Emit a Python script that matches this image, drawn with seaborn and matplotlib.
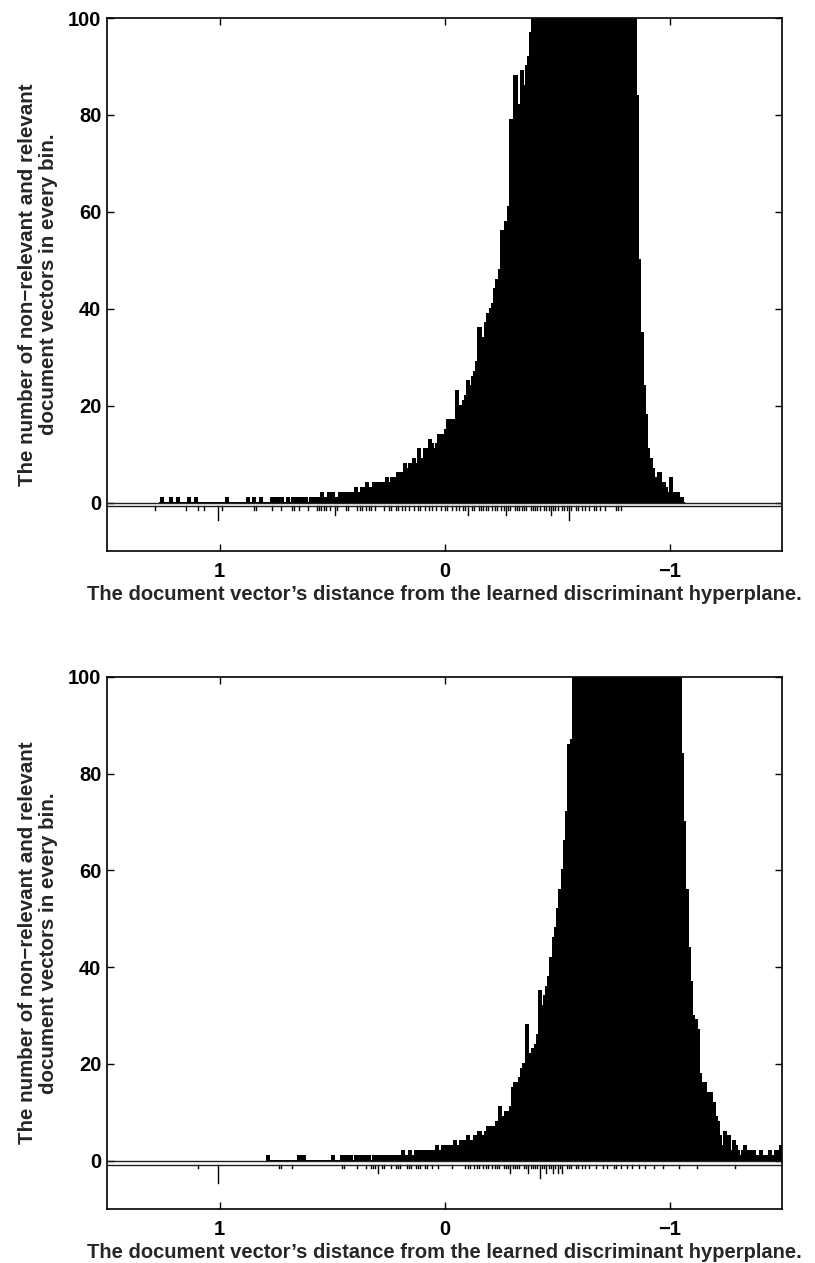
import numpy as np
import pandas as pd
import matplotlib
matplotlib.use("Agg")
import matplotlib.pyplot as plt
import seaborn as sns

BIN_WIDTH = 0.01

# ---------------- Panel 1 (top) ----------------
# non-relevant document counts per bin, ascending x, first bin left edge:
top_nonrel_start = -1.07
top_nonrel_counts = [
    0, 1, 1, 2, 1, 2, 5, 2, 3, 4,              # -1.07 .. -0.98
    3, 6, 4, 5, 7, 9, 11, 18, 24, 35,          # -0.97 .. -0.88
    50, 84, 110, 130, 160, 190, 220, 250, 275, 300,   # -0.87 .. -0.78
    320, 340, 355, 365, 372, 378, 380, 378, 372, 365, # -0.77 .. -0.68
    355, 342, 330, 315, 300, 285, 270, 255, 240, 225, # -0.67 .. -0.58
    212, 200, 188, 176, 165, 155, 146, 138, 131, 125, # -0.57 .. -0.48
    119, 114, 110, 107, 105, 103, 102, 101, 97, 92,   # -0.47 .. -0.38
    90, 86, 89, 82, 77, 88, 72, 79, 61, 58,    # -0.37 .. -0.28
    55, 56, 48, 46, 44, 41, 40, 39, 37, 34,    # -0.27 .. -0.18
    31, 36, 29, 27, 26, 24, 25, 22, 21, 20,    # -0.17 .. -0.08
    19, 23, 17, 17, 16, 17, 15, 14, 13, 14,    # -0.07 .. 0.02
    12, 11, 12, 13, 10, 11, 9, 9, 11, 8,       # 0.03 .. 0.12
    9, 7, 8, 7, 8, 6, 5, 6, 5, 5,              # 0.13 .. 0.22
    5, 4, 5, 4, 3, 4, 4, 3, 4, 3,              # 0.23 .. 0.32
    3, 4, 2, 3, 2, 2, 3, 2, 2, 1,              # 0.33 .. 0.42
    2, 2, 1, 2, 1, 1, 2, 1, 2, 1,              # 0.43 .. 0.52
    1, 2, 1, 1, 0, 1, 1, 0, 1, 1,              # 0.53 .. 0.62
    0, 1, 0, 1, 1, 0, 1, 0, 0, 1,              # 0.63 .. 0.72
    0, 1, 0, 1, 0, 0, 0, 0, 1, 0,              # 0.73 .. 0.82
    0, 1, 0, 0, 1, 0, 0, 0, 0, 0,              # 0.83 .. 0.92
    0, 0, 0, 1, 0, 0, 0, 0, 0, 0,              # 0.93 .. 1.02
    0, 0, 0, 0, 0, 0, 0, 1, 0, 0,              # 1.03 .. 1.12
    1, 0, 0, 0, 0, 1, 0, 0, 1, 0,              # 1.13 .. 1.22
    0, 0, 1, 0,                                # 1.23 .. 1.26
]
# relevant document counts per bin (drawn downward)
top_rel_start = -0.79
top_rel_counts = [
    1, 1, 1, 0, 0, 0, 0, 1, 0, 1,   # -0.79 .. -0.70
    0, 1, 1, 0, 1, 0, 1, 1, 0, 1,   # -0.69 .. -0.60
    1, 0, 1, 3, 1, 1, 1, 0, 1, 1,   # -0.59 .. -0.50
    1, 2, 1, 1, 1, 0, 1, 1, 1, 1,   # -0.49 .. -0.40
    1, 0, 1, 1, 1, 1, 1, 1, 0, 1,   # -0.39 .. -0.30
    1, 2, 1, 1, 0, 1, 1, 1, 0, 1,   # -0.29 .. -0.20
    1, 1, 1, 1, 0, 1, 1, 0, 2, 1,   # -0.19 .. -0.10
    1, 0, 1, 1, 0, 1, 0, 1, 1, 0,   # -0.09 .. 0.00
    1, 0, 1, 0, 1, 1, 0, 1, 0, 1,   # 0.01 .. 0.10
    1, 0, 1, 0, 1, 0, 1, 1, 0, 1,   # 0.11 .. 0.20
    1, 0, 1, 1, 0, 1, 0, 0, 0, 1,   # 0.21 .. 0.30
    0, 1, 1, 1, 0, 1, 1, 1, 0, 0,   # 0.31 .. 0.40
    0, 1, 1, 0, 0, 0, 1, 2, 0, 1,   # 0.41 .. 0.50
    0, 1, 1, 1, 1, 1, 0, 0, 0, 1,   # 0.51 .. 0.60
    0, 0, 0, 1, 0, 1, 1, 0, 0, 0,   # 0.61 .. 0.70
    0, 1, 0, 0, 0, 1, 0, 0, 0, 0,   # 0.71 .. 0.80
    0, 0, 1, 1, 0, 0, 0, 0, 0, 0,   # 0.81 .. 0.90
    0, 0, 0, 0, 0, 0, 0, 1, 0, 3,   # 0.91 .. 1.00
    0, 0, 0, 0, 0, 1, 0, 0, 1, 0,   # 1.01 .. 1.10
    0, 0, 0, 1, 0, 0, 0, 0, 0, 0,   # 1.11 .. 1.20
    0, 0, 0, 0, 0, 0, 0, 1,         # 1.21 .. 1.28
]

# ---------------- Panel 2 (bottom) ----------------
bot_nonrel_start = -1.50
bot_nonrel_counts = [
    3, 1, 2, 1, 1, 2, 1, 0, 1, 2,              # -1.50 .. -1.41
    1, 1, 2, 1, 2, 1, 3, 2, 1, 2,              # -1.40 .. -1.31
    3, 4, 2, 5, 4, 6, 3, 5, 8, 9,              # -1.30 .. -1.21
    12, 14, 13, 14, 16, 15, 18, 27, 29, 30,    # -1.20 .. -1.11
    37, 44, 56, 70, 84, 110, 140, 170, 200, 230,      # -1.10 .. -1.01
    260, 290, 315, 340, 360, 375, 388, 396, 400, 402, # -1.00 .. -0.91
    400, 396, 390, 382, 372, 360, 346, 330, 312, 294, # -0.90 .. -0.81
    276, 258, 240, 222, 205, 190, 176, 163, 152, 142, # -0.80 .. -0.71
    134, 127, 121, 116, 112, 109, 106, 104, 103, 102, # -0.70 .. -0.61
    101, 92, 100, 87, 86, 72, 66, 60, 56, 52,  # -0.60 .. -0.51
    48, 46, 42, 38, 36, 34, 32, 35, 26, 24,    # -0.50 .. -0.41
    23, 22, 21, 28, 20, 19, 17, 16, 16, 15,    # -0.40 .. -0.31
    11, 10, 10, 9, 8, 11, 8, 7, 7, 6,          # -0.30 .. -0.21
    7, 6, 5, 5, 6, 5, 5, 4, 4, 5,              # -0.20 .. -0.11
    4, 3, 4, 3, 3, 4, 3, 3, 2, 3,              # -0.10 .. -0.01
    3, 2, 2, 3, 2, 2, 1, 2, 2, 1,              # 0.00 .. 0.09
    2, 1, 2, 1, 1, 2, 1, 1, 2, 1,              # 0.10 .. 0.19
    1, 1, 1, 0, 1, 1, 0, 1, 1, 0,              # 0.20 .. 0.29
    1, 1, 0, 1, 1, 0, 1, 0, 1, 1,              # 0.30 .. 0.39
    0, 1, 1, 0, 1, 1, 0, 0, 0, 1,              # 0.40 .. 0.49
    0, 0, 0, 0, 0, 0, 0, 0, 0, 0,              # 0.50 .. 0.59
    0, 0, 1, 0, 1, 0, 0, 0, 0, 0,              # 0.60 .. 0.69
    0, 0, 0, 0, 0, 0, 0, 0, 1,                 # 0.70 .. 0.78
]
bot_rel_start = -1.30
bot_rel_counts = [
    1, 0, 0, 0, 0, 0, 0, 0, 0, 0,   # -1.30 .. -1.21
    0, 0, 0, 0, 0, 0, 0, 1, 0, 0,   # -1.20 .. -1.11
    0, 0, 0, 0, 0, 1, 0, 0, 0, 0,   # -1.10 .. -1.01
    0, 0, 1, 0, 0, 0, 1, 0, 0, 0,   # -1.00 .. -0.91
    1, 0, 0, 1, 0, 0, 1, 0, 1, 0,   # -0.90 .. -0.81
    0, 1, 0, 1, 1, 0, 0, 1, 0, 1,   # -0.80 .. -0.71
    0, 0, 1, 0, 0, 1, 0, 1, 1, 0,   # -0.70 .. -0.61
    1, 1, 0, 1, 1, 1, 0, 2, 1, 2,   # -0.60 .. -0.51
    1, 2, 1, 1, 2, 1, 1, 3, 1, 1,   # -0.50 .. -0.41
    1, 1, 2, 1, 1, 0, 1, 1, 1, 1,   # -0.40 .. -0.31
    2, 1, 1, 1, 0, 1, 1, 1, 1, 0,   # -0.30 .. -0.21
    1, 1, 1, 0, 1, 1, 1, 0, 1, 1,   # -0.20 .. -0.11
    1, 0, 0, 0, 0, 0, 1, 0, 0, 0,   # -0.10 .. -0.01
    0, 0, 1, 0, 0, 1, 0, 1, 1, 0,   # 0.00 .. 0.09
    1, 1, 1, 0, 1, 1, 1, 0, 0, 1,   # 0.10 .. 0.19
    1, 1, 0, 1, 0, 0, 1, 1, 0, 2,   # 0.20 .. 0.29
    1, 1, 1, 0, 1, 0, 0, 0, 1, 0,   # 0.30 .. 0.39
    0, 0, 0, 0, 1, 1, 0, 0, 0, 0,   # 0.40 .. 0.49
    0, 0, 0, 0, 0, 0, 0, 0, 0, 0,   # 0.50 .. 0.59
    0, 0, 0, 0, 0, 0, 0, 1, 0, 0,   # 0.60 .. 0.69
    0, 0, 1, 1, 0, 0, 0, 0, 0, 0,   # 0.70 .. 0.79
    0, 0, 0, 0, 0, 0, 0, 0, 0, 0,   # 0.80 .. 0.89
    0, 0, 0, 0, 0, 0, 0, 0, 0, 0,   # 0.90 .. 0.99
    4, 0, 0, 0, 0, 0, 0, 0, 0, 1,   # 1.00 .. 1.09
]

# ---------------- axes / text ----------------
x_ticks = [1, 0, -1]
x_tick_labels = ["1", "0", "\u22121"]
y_ticks = [0, 20, 40, 60, 80, 100]
y_tick_labels = ["0", "20", "40", "60", "80", "100"]
x_label = "The document vector\u2019s distance from the learned discriminant hyperplane."
y_label = "The number of non\u2212relevant and relevant\ndocument vectors in every bin."

REL_BASE = -0.8
FS_TICK = 14.5
FS_XLAB = 14.5
FS_YLAB = 14.8

sns.set_theme(style="white")
plt.rcParams["font.family"] = ["Liberation Sans", "DejaVu Sans"]
plt.rcParams["font.weight"] = "bold"

fig = plt.figure(figsize=(8.15, 12.63), dpi=100)
ax_top = fig.add_axes([107 / 815, 1 - 551 / 1263, 675 / 815, 533 / 1263])
ax_bot = fig.add_axes([107 / 815, 1 - 1209 / 1263, 675 / 815, 532 / 1263])


def draw(ax, nr_start, nr_counts, r_start, r_counts):
    nr_counts = np.asarray(nr_counts, dtype=float)
    edges = nr_start + BIN_WIDTH * np.arange(len(nr_counts) + 1)
    centers = 0.5 * (edges[:-1] + edges[1:])
    df = pd.DataFrame({"x": centers, "w": nr_counts})
    sns.histplot(data=df, x="x", weights="w", bins=list(edges), color="black",
                 alpha=1.0, edgecolor="black", linewidth=0.3,
                 antialiased=False, ax=ax)

    r_counts = np.asarray(r_counts, dtype=float)
    r_centers = r_start + BIN_WIDTH * (np.arange(len(r_counts)) + 0.5)
    m = r_counts > 0
    ax.bar(r_centers[m], -r_counts[m], width=0.005, bottom=REL_BASE,
           color="black", edgecolor="black", linewidth=0.3)

    ax.axhline(0, color="#222222", lw=1.0, zorder=4)
    ax.axhline(REL_BASE, color="#222222", lw=1.0, zorder=4)

    ax.set_xlim(1.5, -1.5)
    ax.set_ylim(-10, 100)
    ax.set_xticks(x_ticks)
    ax.set_xticklabels(x_tick_labels, fontsize=FS_TICK, fontweight="bold")
    ax.set_yticks(y_ticks)
    ax.set_yticklabels(y_tick_labels, fontsize=FS_TICK, fontweight="bold")
    ax.tick_params(axis="both", direction="in", length=5, width=1.0,
                   top=True, right=True, bottom=True, left=True, colors="black")
    ax.tick_params(axis="x", pad=8)
    ax.tick_params(axis="y", pad=4)
    for s in ax.spines.values():
        s.set_visible(True)
        s.set_color("black")
        s.set_linewidth(1.2)
    ax.set_xlabel(x_label, fontsize=FS_XLAB, fontweight="bold", labelpad=3)
    ax.set_ylabel(y_label, fontsize=FS_YLAB, fontweight="bold", labelpad=7,
                  linespacing=1.15)
    ax.set_facecolor("white")
    ax.grid(False)


draw(ax_top, top_nonrel_start, top_nonrel_counts, top_rel_start, top_rel_counts)
draw(ax_bot, bot_nonrel_start, bot_nonrel_counts, bot_rel_start, bot_rel_counts)

fig.savefig("out.png", dpi=100, facecolor="white")
